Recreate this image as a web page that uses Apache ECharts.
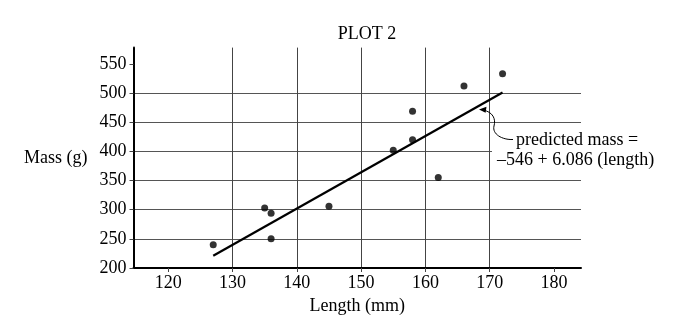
<!DOCTYPE html>
<html>
<head>
<meta charset="utf-8">
<script src="https://cdn.jsdelivr.net/npm/echarts@6/dist/echarts.min.js"></script>
<style>
html,body{margin:0;padding:0;background:#fff;}
#c{width:693px;height:330px;}
</style>
</head>
<body>
<div id="c"></div>
<script>
// Data
var lengths = [127, 135, 136, 136, 145, 155, 158, 158, 162, 166, 172];
var masses  = [240, 303, 294, 250, 306, 402, 420, 469, 355, 512, 533];
// Least-squares line endpoints (as drawn)
var lineLengths = [127, 172];
var lineMasses  = [221, 501];
var yTicks = [200, 250, 300, 350, 400, 450, 500, 550];
var xTicks = [120, 130, 140, 150, 160, 170, 180];

var font = 'Liberation Serif';
var points = lengths.map(function (x, i) { return [x, masses[i]]; });
var fitLine = lineLengths.map(function (x, i) { return [x, lineMasses[i]]; });

var chart = echarts.init(document.getElementById('c'), null, {renderer: 'canvas'});
chart.setOption({
  backgroundColor: '#fff',
  animation: false,
  title: {
    text: 'PLOT 2',
    left: 362, top: 20, textAlign: 'center',
    textStyle: {fontFamily: font, fontSize: 18, fontWeight: 'normal', color: '#000'}
  },
  grid: {left: 133.5, right: 112, top: 47.6, bottom: 62, containLabel: false},
  xAxis: {
    type: 'value',
    min: 114.6, max: 184.2, splitNumber: 7,
    name: 'Length (mm)', nameLocation: 'middle', nameGap: 24,
    nameTextStyle: {fontFamily: font, fontSize: 18, color: '#000'},
    axisLine: {show: true, onZero: false, lineStyle: {color: '#000', width: 2}},
    axisTick: {show: true, length: 4, lineStyle: {color: '#444', width: 1}, customValues: xTicks},
    axisLabel: {fontFamily: font, fontSize: 18, color: '#000', margin: 6, customValues: xTicks},
    splitLine: {show: true, showMinLine: false, showMaxLine: false, lineStyle: {color: '#444', width: 1}}
  },
  yAxis: {
    type: 'value',
    min: 200, max: 578, interval: 50,
    name: 'Mass (g)', nameLocation: 'middle', nameGap: 46, nameRotate: 0,
    nameTextStyle: {fontFamily: font, fontSize: 18, color: '#000', padding: [0, 0, 14, 0]},
    axisLine: {show: true, onZero: false, lineStyle: {color: '#000', width: 2}},
    axisTick: {show: true, length: 4, lineStyle: {color: '#444', width: 1}, customValues: yTicks},
    axisLabel: {fontFamily: font, fontSize: 18, color: '#000', margin: 7, customValues: yTicks},
    splitLine: {show: true, showMinLine: false, showMaxLine: false, lineStyle: {color: '#555', width: 1}}
  },
  series: [
    {
      type: 'line',
      data: fitLine,
      symbol: 'none',
      lineStyle: {color: '#000', width: 2.2},
      z: 3
    },
    {
      type: 'scatter',
      data: points,
      symbol: 'circle',
      symbolSize: 7,
      itemStyle: {color: '#000'},
      z: 4
    }
  ],
  graphic: [
    {type: 'rect', shape: {x: 492, y: 126, width: 180, height: 49}, style: {fill: '#fff'}, z: 10},
    {type: 'bezierCurve', z: 11,
      shape: {x1: 513, y1: 139.5, cpx1: 502, cpy1: 140, cpx2: 492, cpy2: 134, x2: 494, y2: 126},
      style: {fill: null, stroke: '#000', lineWidth: 1}},
    {type: 'bezierCurve', z: 11,
      shape: {x1: 494, y1: 126, cpx1: 496, cpy1: 119, cpx2: 493, cpy2: 112, x2: 483, y2: 110},
      style: {fill: null, stroke: '#000', lineWidth: 1}},
    {type: 'polygon', z: 11,
      shape: {points: [[479, 109.5], [486.5, 106.8], [485.6, 112.8]]},
      style: {fill: '#000'}},
    {type: 'text', z: 11, left: 516, top: 131,
      style: {text: 'predicted mass =', fontFamily: font, fontSize: 18, fill: '#000'}},
    {type: 'text', z: 11, left: 497, top: 151,
      style: {text: '\u2013546 + 6.086 (length)', fontFamily: font, fontSize: 18, fill: '#000'}}
  ]
});
</script>
</body>
</html>
